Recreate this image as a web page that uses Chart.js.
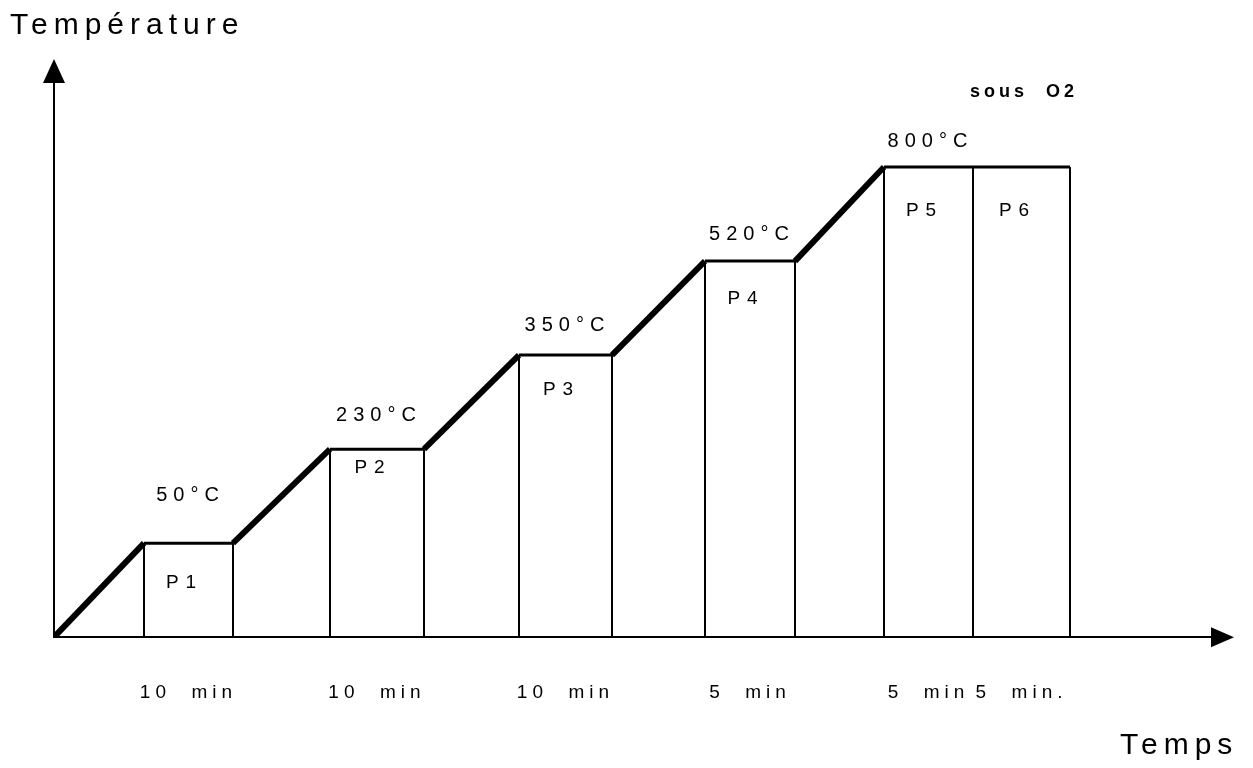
<!DOCTYPE html>
<html>
<head>
<meta charset="utf-8">
<script src="https://cdn.jsdelivr.net/npm/chart.js@4/dist/chart.umd.min.js"></script>
<style>
  html, body { margin: 0; padding: 0; background: #fff; }
  #wrap { width: 1253px; height: 768px; }
</style>
</head>
<body>
<div id="wrap"><canvas id="profil" width="1253" height="768"></canvas></div>
<script>
// profil de temperature (abscisse et niveaux lus sur le schema, pas a l'echelle)
var temps = [0, 90, 179, 276, 370, 465, 558, 651, 741, 830, 1016];
var niveau = [0, 1, 1, 2, 2, 3, 3, 4, 4, 5, 5];

// paliers
var paliers = ['P1', 'P2', 'P3', 'P4', 'P5', 'P6'];
var debutPalier = [90, 276, 465, 651, 830, 919];
var finPalier = [179, 370, 558, 741, 919, 1016];
var niveauPalier = [1, 2, 3, 4, 5, 5];
var durees = ['10  min', '10  min', '10  min', '5  min', '5  min', '5  min.'];
var temperatures = ['50°C', '230°C', '350°C', '520°C', '800°C'];

var FONT = '"Liberation Sans", Arial, sans-serif';

var profil = temps.map(function (t, i) { return {x: t, y: niveau[i]}; });

// traits verticaux des paliers
var traits = [];
var bords = [];
paliers.forEach(function (p, i) {
  [debutPalier[i], finPalier[i]].forEach(function (x) {
    if (bords.indexOf(x) < 0) {
      bords.push(x);
      traits.push({x: x, y: 0}, {x: x, y: niveauPalier[i]}, {x: x, y: null});
    }
  });
});

var centres = paliers.map(function (p, i) { return (debutPalier[i] + finPalier[i]) / 2; });

var annotations = {
  id: 'annotations',
  beforeDraw: function (chart) {
    chart.ctx.letterSpacing = '5px';
  },
  afterDraw: function (chart) {
    var ctx = chart.ctx;
    var a = chart.chartArea;
    var xs = chart.scales.x, ys = chart.scales.y;
    ctx.save();
    ctx.fillStyle = '#000';

    // fleches
    ctx.beginPath();
    ctx.moveTo(a.left, a.top - 14);
    ctx.lineTo(a.left - 11, a.top + 10);
    ctx.lineTo(a.left + 11, a.top + 10);
    ctx.closePath();
    ctx.fill();
    ctx.beginPath();
    ctx.moveTo(a.right + 22, a.bottom);
    ctx.lineTo(a.right - 1, a.bottom - 10);
    ctx.lineTo(a.right - 1, a.bottom + 10);
    ctx.closePath();
    ctx.fill();

    ctx.textBaseline = 'middle';
    ctx.textAlign = 'left';
    ctx.font = '30px ' + FONT;
    ctx.letterSpacing = '6px';
    ctx.fillText('Température', 10, 26);
    ctx.fillText('Temps', 1120, 746);

    ctx.font = 'bold 18px ' + FONT;
    ctx.letterSpacing = '4px';
    ctx.fillText('sous  O2', 970, 92);

    // temperatures au-dessus des paliers
    var decal = [48, 34, 30, 27, 26];
    ctx.textAlign = 'center';
    ctx.font = '20px ' + FONT;
    ctx.letterSpacing = '6px';
    temperatures.forEach(function (t, i) {
      var cx = xs.getPixelForValue(centres[i]) + 2;
      var cy = ys.getPixelForValue(i + 1) - decal[i];
      ctx.fillText(t, cx, cy);
    });

    // noms des paliers
    var decalP = [40, 19, 35, 38, 44, 44];
    ctx.font = '19px ' + FONT;
    ctx.letterSpacing = '7px';
    paliers.forEach(function (p, i) {
      var cx = xs.getPixelForValue(centres[i]) - 4;
      var cy = ys.getPixelForValue(niveauPalier[i]) + decalP[i];
      ctx.fillText(p, cx, cy);
    });
    ctx.restore();
  }
};

new Chart(document.getElementById('profil'), {
  type: 'scatter',
  data: {
    datasets: [
      {
        label: 'profil',
        data: profil,
        showLine: true,
        borderColor: '#000',
        borderWidth: 6,
        pointRadius: 0,
        borderJoinStyle: 'round',
        segment: {
          borderWidth: function (c) { return c.p0.parsed.y === c.p1.parsed.y ? 3 : 6; }
        }
      },
      {
        label: 'paliers',
        data: traits,
        showLine: true,
        spanGaps: false,
        borderColor: '#000',
        borderWidth: 2,
        pointRadius: 0
      }
    ]
  },
  options: {
    responsive: false,
    animation: false,
    events: [],
    layout: { padding: { left: 54, right: 41, top: 73, bottom: 20 } },
    plugins: { legend: { display: false }, tooltip: { enabled: false } },
    scales: {
      x: {
        type: 'linear',
        min: 0,
        max: 1158,
        grid: { display: false, drawTicks: false },
        border: { display: true, color: '#000', width: 2 },
        afterBuildTicks: function (scale) {
          scale.ticks = centres.map(function (v) { return {value: v}; });
        },
        ticks: {
          padding: 44,
          color: '#000',
          maxRotation: 0,
          autoSkip: false,
          font: { family: FONT, size: 19 },
          callback: function (v, i) { return durees[i]; }
        }
      },
      y: {
        type: 'linear',
        min: 0,
        max: 6,
        grid: { display: false, drawTicks: false },
        border: { display: true, color: '#000', width: 2 },
        ticks: { display: false }
      }
    }
  },
  plugins: [annotations]
});
</script>
</body>
</html>
